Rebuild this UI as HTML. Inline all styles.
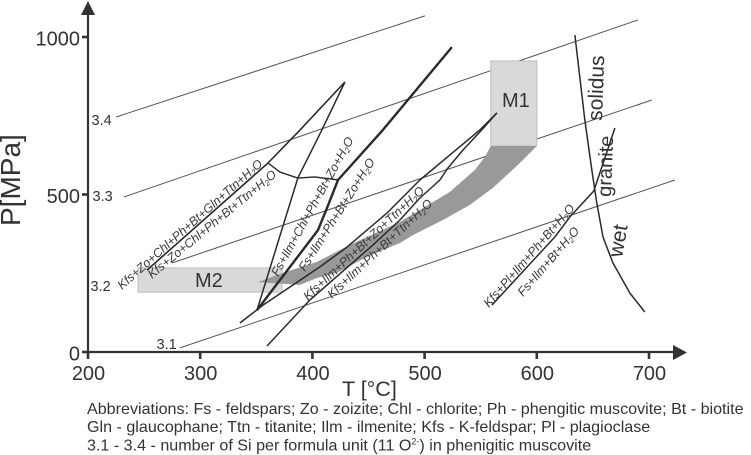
<!DOCTYPE html>
<html>
<head>
<meta charset="utf-8">
<style>
html,body{margin:0;padding:0;background:#fff;width:751px;height:455px;overflow:hidden}
svg{display:block;font-family:"Liberation Sans",sans-serif;fill:#333;filter:blur(0.3px)}
.lab{font-size:12.4px;font-style:italic;fill:#3a3a3a}
.tick{font-size:20px}
.si{font-size:14.5px}
.note{font-size:16.1px}
</style>
</head>
<body>
<svg id="chart" width="751" height="455" viewBox="0 0 751 455" xmlns="http://www.w3.org/2000/svg">
  <g id="iso"></g>
  <g id="fields"></g>
  <g id="rx"></g>
  <g id="axes"></g>
  <text class="si" x="91.5" y="125">3.4</text>
  <text class="si" x="92.5" y="201">3.3</text>
  <text class="si" x="90.5" y="291">3.2</text>
  <text class="si" x="156.5" y="349">3.1</text>
  <text x="195" y="287" font-size="20">M2</text>
  <text x="502" y="107" font-size="20">M1</text>
  <text class="lab" transform="translate(122,290) rotate(-41.5)">Kfs+Zo+Chl+Ph+Bt+Gln+Ttn+H<tspan font-size="8" dy="2">2</tspan><tspan dy="-2">O</tspan></text>
  <text class="lab" transform="translate(152,279) rotate(-39.5)">Kfs+Zo+Chl+Ph+Bt+Ttn+H<tspan font-size="8" dy="2">2</tspan><tspan dy="-2">O</tspan></text>
  <text class="lab" transform="translate(278,277) rotate(-61)">Fs+Ilm+Chl+Ph+Bt+Zo+H<tspan font-size="8" dy="2">2</tspan><tspan dy="-2">O</tspan></text>
  <text class="lab" transform="translate(305,272) rotate(-57.5)">Fs+Ilm+Ph+Bt+Zo+H<tspan font-size="8" dy="2">2</tspan><tspan dy="-2">O</tspan></text>
  <text class="lab" transform="translate(308,301) rotate(-43)">Kfs+Ilm+Ph+Bt+Zo+Ttn+H<tspan font-size="8" dy="2">2</tspan><tspan dy="-2">O</tspan></text>
  <text class="lab" transform="translate(332,299) rotate(-43)">Kfs+Ilm+Ph+Bt+Ttn+H<tspan font-size="8" dy="2">2</tspan><tspan dy="-2">O</tspan></text>
  <text class="lab" transform="translate(489,308) rotate(-49)">Kfs+Pl+Ilm+Ph+Bt+H<tspan font-size="8" dy="2">2</tspan><tspan dy="-2">O</tspan></text>
  <text class="lab" transform="translate(523,297) rotate(-49)">Fs+Ilm+Bt+H<tspan font-size="8" dy="2">2</tspan><tspan dy="-2">O</tspan></text>
  <text transform="translate(602,121) rotate(-88)" font-size="21">solidus</text>
  <text transform="translate(611,197) rotate(-88)" font-size="20">granite</text>
  <text transform="translate(622,258) rotate(-80)" font-size="21">wet</text>
  <text transform="translate(20,226) rotate(-90)" font-size="28">P[MPa]</text>
  <text x="342" y="396" font-size="21.5">T [°C]</text>
  <text class="note" x="87" y="414">Abbreviations: Fs - feldspars; Zo - zoizite; Chl - chlorite; Ph - phengitic muscovite; Bt - biotite</text>
  <text class="note" x="87" y="432">Gln - glaucophane; Ttn - titanite; Ilm - ilmenite; Kfs - K-feldspar; Pl - plagioclase</text>
  <text class="note" x="87" y="450.5">3.1 - 3.4 - number of Si per formula unit (11 O<tspan font-size="9" dy="-6">2-</tspan><tspan dy="6">) in phenigitic muscovite</tspan></text>
</svg>
<script>
// Axis tick labels
const xTicks = [200, 300, 400, 500, 600, 700];
const yTicks = [0, 500, 1000];

// Si isopleths: [T, P] pairs
const si34 = [[225, 746], [500.3, 1067]];
const si33 = [[232, 492], [690, 1054]];
const si32 = [[275, 283], [702.5, 800]];
const si31 = [[282, 13], [723, 546]];

// Metamorphic fields
const m1Box = [[559, 924], [600, 654]];
const m2Box = [[244.6, 267], [372.9, 190]];
const bandUpper = [[351.5, 222], [373.7, 251], [404, 286], [433.4, 340], [478, 413], [498.5, 457], [522.5, 508], [544.8, 578], [553.7, 619], [559, 654]];
const bandLower = [[600, 654], [584.9, 600], [560.9, 521], [540.4, 467], [516.3, 419], [489.6, 371], [478, 346], [448.6, 302], [421.9, 251], [404, 235], [388.9, 213]];

// Reaction curves
const rxThick = [[350.6, 133], [405, 387], [413, 457], [422.8, 546], [462.8, 705], [524.3, 968]];
const rxSteep = [[350.6, 133], [387, 552], [408.5, 705], [429, 857]];
const rxUpperLeft = [[252.6, 260], [360.4, 600], [389, 705], [429, 857]];
const rxConnector = [[360.4, 600], [371, 571], [387, 552], [402, 556], [423.6, 546]];
const rxKfsUpper = [[335.4, 92], [356, 149], [406.7, 270], [430.8, 333], [466.4, 441], [495.8, 546], [549.3, 705], [564.4, 759]];
const rxKfsLower = [[359.5, 19], [397.8, 165], [454, 340], [478, 419], [495.8, 489], [513.6, 546], [520.8, 584], [534.1, 641], [551, 705], [564.4, 759]];
const solidus = [[634, 1006], [642.8, 737], [649, 578], [653.5, 473], [659, 365], [667.8, 283], [683, 187], [696.3, 127]];
const rxPl = [[669.6, 711], [650.8, 511], [629.5, 429], [616, 365], [560, 149]];

const NS = 'http://www.w3.org/2000/svg';
const xScale = t => 88 + (t - 200) * 1.122;
const yScale = p => 352 - p * 0.315;
const pts = a => a.map(d => xScale(d[0]).toFixed(1) + ',' + yScale(d[1]).toFixed(1)).join(' ');

function polyline(parent, data, width, color, name) {
  const el = document.createElementNS(NS, 'polyline');
  el.setAttribute('points', pts(data));
  el.setAttribute('fill', 'none');
  el.setAttribute('stroke', color);
  el.setAttribute('stroke-width', width);
  el.setAttribute('stroke-linejoin', 'round');
  
  
  parent.appendChild(el);
}
function rectBox(parent, box, name) {
  const el = document.createElementNS(NS, 'rect');
  el.setAttribute('x', xScale(box[0][0]));
  el.setAttribute('y', yScale(box[0][1]));
  el.setAttribute('width', xScale(box[1][0]) - xScale(box[0][0]));
  el.setAttribute('height', yScale(box[1][1]) - yScale(box[0][1]));
  el.setAttribute('fill', '#d9d9d9');
  el.setAttribute('stroke', '#bdbdbd');
  
  
  parent.appendChild(el);
}
function axisLine(parent, x1, y1, x2, y2, w, name) {
  const el = document.createElementNS(NS, 'line');
  el.setAttribute('x1', x1);
  el.setAttribute('y1', y1);
  el.setAttribute('x2', x2);
  el.setAttribute('y2', y2);
  el.setAttribute('stroke', '#333');
  el.setAttribute('stroke-width', w);
  
  
  parent.appendChild(el);
}
function axisText(parent, x, y, anchor, str, name) {
  const el = document.createElementNS(NS, 'text');
  el.setAttribute('x', x);
  el.setAttribute('y', y);
  el.setAttribute('text-anchor', anchor);
  el.setAttribute('class', 'tick');
  
  
  el.textContent = str;
  parent.appendChild(el);
}
function arrow(parent, points, name) {
  const el = document.createElementNS(NS, 'polygon');
  el.setAttribute('points', points);
  el.setAttribute('fill', '#333');
  
  
  parent.appendChild(el);
}

const iso = document.getElementById('iso');
polyline(iso, si34, 1, '#555', 'isopleth-3.4');
polyline(iso, si33, 1, '#555', 'isopleth-3.3');
polyline(iso, si32, 1, '#555', 'isopleth-3.2');
polyline(iso, si31, 1, '#555', 'isopleth-3.1');

const fields = document.getElementById('fields');
rectBox(fields, m2Box, 'm2-field');
rectBox(fields, m1Box, 'm1-field');
const band = document.createElementNS(NS, 'polygon');
band.setAttribute('points', pts(bandUpper.concat(bandLower)));
band.setAttribute('fill', '#999');


fields.appendChild(band);

const rx = document.getElementById('rx');
polyline(rx, rxThick, 2.4, '#2a2a2a', 'reaction-thick');
polyline(rx, rxSteep, 1.5, '#2a2a2a', 'reaction-steep');
polyline(rx, rxUpperLeft, 1.6, '#2a2a2a', 'reaction-upper-left');
polyline(rx, rxConnector, 1.4, '#2a2a2a', 'reaction-connector');
polyline(rx, rxKfsUpper, 1.5, '#2a2a2a', 'reaction-kfs-upper');
polyline(rx, rxKfsLower, 1.5, '#2a2a2a', 'reaction-kfs-lower');
polyline(rx, solidus, 1.5, '#2a2a2a', 'granite-wet-solidus');
polyline(rx, rxPl, 1.5, '#2a2a2a', 'reaction-plagioclase');

const axes = document.getElementById('axes');
axisLine(axes, 88, 352, 674, 352, 2.2, 'x-axis-line');
axisLine(axes, 88, 358, 88, 14, 2.2, 'y-axis-line');
arrow(axes, '673,345 687,352.5 673,360', 'x-axis-arrow');
arrow(axes, '81,15 88,1 95,15', 'y-axis-arrow');
for (const t of xTicks) {
  axisLine(axes, xScale(t), 352, xScale(t), 359, 2.6, 'x-tick-' + t);
  axisText(axes, xScale(t) + 0.5, 380, 'middle', String(t), 'x-tick-label-' + t);
}
for (const p of yTicks) {
  axisLine(axes, 82, yScale(p), 88, yScale(p), 2.6, 'y-tick-' + p);
  axisText(axes, 80, yScale(p) + 8.5, 'end', String(p), 'y-tick-label-' + p);
}
</script>
</body>
</html>
